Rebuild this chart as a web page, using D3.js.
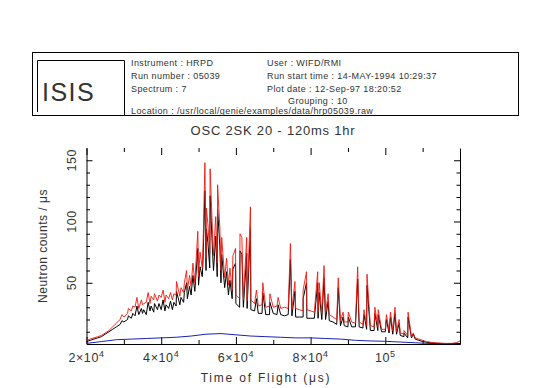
<!DOCTYPE html>
<html>
<head>
<meta charset="utf-8">
<script src="https://cdn.jsdelivr.net/npm/d3@7"></script>
<style>
  body { margin: 0; background: #fff; }
  text { font-family: "Liberation Sans", Arial, sans-serif; fill: #333; }
</style>
</head>
<body>
<div id="chart"></div>
<script>

// time of flight grid, in thousands of microseconds
const tofK = [20,21,22,23,24,25,26,27,28,29,30,31,32,33,34,35,36,37,38,39,
  40,41,42,43,44,45,46,47,48,49,50,51,52,53,54,55,56,57,58,59,
  60,61,62,63,64,65,66,67,68,69,70,71,72,73,74,75,76,77,78,79,
  80,81,82,83,84,85,86,87,88,89,90,91,92,93,94,95,96,97,98,99,
  100,101,102,103,104,105,106,107,108,109,110,111,112,113,114,115,116,117,118,119,120];

// red spectrum background
const redCounts = [3,4,5,6,7,9,11,14,17,20,22,25,27,30,29,32,34,33,36,35,
  38,34,37,36,40,39,42,44,47,50,55,62,70,74,72,66,60,54,48,44,
  40,37,36,35,36,33,31,32,30,31,30,31,29,30,29,28,29,28,27,28,
  27,26,26,25,25,24,22,20,19,18,18,18,17,18,16,15,15,14,14,12,
  12,11,11,10,9,8,7,6,5,4,3,2,1.5,1,0.8,0.6,0.5,0.5,0.6,1,2.5];

// black spectrum background
const blackCounts = [2,3,4,5,6,8,10,12,14,16,18,20,21,23,24,25,24,27,26,28,
  28,27,29,28,31,32,34,37,40,43,48,55,60,62,60,55,50,46,40,37,
  33,30,30,29,28,27,25,25,24,24,25,24,24,23,24,23,22,22,22,21,
  21,21,21,20,20,19,18,16,15,15,14,14,14,14,13,12,11,11,11,10,
  10,9,8,8,7,6,5,5,4,3,2,1.5,1,0.8,0.6,0.5,0.4,0.4,0.4,0.5,0.5];

// Bragg peaks (thousands of microseconds) and their tops
const peakK = [29.5,31.2,32.4,33.5,34.7,35.3,36.5,37.3,38.2,39.4,
  40.5,41.3,42.5,43.4,44.1,45.3,46.2,46.8,47.6,48.5,
  49.8,50.4,51.2,51.7,52.1,52.5,53.1,53.8,54.6,55.1,
  55.7,56.2,57.5,58.4,59.2,59.9,61.1,61.6,62.9,63.9,
  65.5,67.2,69.1,71.3,74.6,75.8,78.0,78.9,81.9,82.3,
  83.6,84.7,87.4,88.7,90.1,92.6,94.3,95.1,97.2,98.1,
  100.3,101.4,102.6,103.7,105.0,106.1,107.5];
const peakRed = [24,29,31,38,36,33,42,39,41,40,
  44,40,42,41,51,46,50,60,56,66,
  92,75,80,148,111,98,143,86,104,130,
  95,87,70,62,72,78,90,87,87,112,
  44,50,41,38,82,51,44,59,59,50,
  64,41,54,26,26,63,28,57,30,28,
  24,26,30,20,11,26,9];
const peakBlack = [19,23,25,31,29,28,34,31,33,33,
  36,32,35,34,43,38,42,50,47,56,
  78,63,68,125,94,83,121,72,88,110,
  80,73,59,52,61,66,76,73,74,95,
  37,42,34,32,69,43,37,50,50,42,
  54,35,46,22,22,53,24,48,25,24,
  20,22,25,17,9,22,8];

// low background monitor curve
const blueK = [20,24,28,32,36,40,44,48,52,56,60,64,68,72,76,80,84,88,92,96,100,104,108,112,116,120];
const blueCounts = [0.5,2,3.5,4,4.5,5,5.5,6.5,8,8.5,7.5,6.5,6,5.5,5,5,4.5,4,3,2.5,2.2,1.6,1,0.4,0.3,0.3];

const xMajor = [20000, 40000, 60000, 80000, 100000];
const xMajorLabels = [["2\u00d710", "4"], ["4\u00d710", "4"], ["6\u00d710", "4"], ["8\u00d710", "4"], ["10", "5"]];
const xMinor = [30000, 50000, 70000, 90000, 110000];
const yMajor = [50, 100, 150];
const yMinor = [10, 20, 30, 40, 60, 70, 80, 90, 110, 120, 130, 140];

const headerLeft = ["Instrument : HRPD", "Run number : 05039", "Spectrum : 7"];
const headerRight = ["User : WIFD/RMI", "Run start time : 14-MAY-1994 10:29:37",
  "Plot date : 12-Sep-97 18:20:52"];
const groupingText = "Grouping : 10";
const locationText = "Location : /usr/local/genie/examples/data/hrp05039.raw";
const titleText = "OSC 2SK 20 - 120ms 1hr";

const width = 547, height = 388;
const plotLeft = 86.5, plotRight = 460, plotTop = 148, plotBottom = 344;

const svg = d3.select("#chart").append("svg")
    .attr("width", width)
    .attr("height", height);

// header box
svg.append("rect")
    .attr("x", 32.5).attr("y", 52.5).attr("width", 486).attr("height", 63)
    .attr("fill", "none").attr("stroke", "#000");
svg.append("path")
    .attr("d", "M37.5,112V60.5H124.5V116")
    .attr("fill", "none").attr("stroke", "#000");
svg.append("text")
    .attr("x", 42).attr("y", 101)
    .attr("font-size", 25).attr("letter-spacing", 1.5)
    .text("ISIS");

svg.append("g").selectAll("text")
    .data(headerLeft)
    .join("text")
    .attr("x", 131).attr("y", (d, i) => 66 + i * 13)
    .attr("font-size", 9).attr("letter-spacing", 0.4)
    .text((d) => d);
svg.append("g").selectAll("text")
    .data(headerRight)
    .join("text")
    .attr("x", 267).attr("y", (d, i) => 66 + i * 13)
    .attr("font-size", 9).attr("letter-spacing", 0.4)
    .text((d) => d);
svg.append("text")
    .attr("x", 288).attr("y", 103.5)
    .attr("font-size", 9).attr("letter-spacing", 0.4)
    .text(groupingText);
svg.append("text")
    .attr("x", 131).attr("y", 114)
    .attr("font-size", 9).attr("letter-spacing", 0.4)
    .text(locationText);

svg.append("text")
    .attr("x", 273).attr("y", 135)
    .attr("text-anchor", "middle")
    .attr("font-size", 13).attr("letter-spacing", 0.8)
    .text(titleText);

// scales
const xScale = d3.scaleLinear().domain([20000, 120000]).range([plotLeft, plotRight]);
const yScale = d3.scaleLinear().domain([0, 160]).range([plotBottom, plotTop]);

// axes, ticks pointing into the frame
svg.append("g")
    .attr("transform", `translate(0,${plotBottom})`)
    .call(d3.axisBottom(xScale).tickValues(xMajor).tickSize(-7).tickSizeOuter(0).tickFormat(""));
svg.append("g")
    .attr("transform", `translate(0,${plotBottom})`)
    .call(d3.axisBottom(xScale).tickValues(xMinor).tickSize(-4).tickSizeOuter(0).tickFormat(""))
    .call((g) => g.select(".domain").remove());

svg.append("g")
    .attr("transform", `translate(0,${plotTop})`)
    .call(d3.axisTop(xScale).tickValues(xMajor).tickSize(-7).tickSizeOuter(0).tickFormat(""))
    .call((g) => g.select(".domain").remove());
svg.append("g")
    .attr("transform", `translate(0,${plotTop})`)
    .call(d3.axisTop(xScale).tickValues(xMinor).tickSize(-4).tickSizeOuter(0).tickFormat(""))
    .call((g) => g.select(".domain").remove());

svg.append("g")
    .attr("transform", `translate(${plotLeft},0)`)
    .call(d3.axisLeft(yScale).tickValues(yMajor).tickSize(-6).tickSizeOuter(0).tickFormat(""));
svg.append("g")
    .attr("transform", `translate(${plotLeft},0)`)
    .call(d3.axisLeft(yScale).tickValues(yMinor).tickSize(-3.5).tickSizeOuter(0).tickFormat(""))
    .call((g) => g.select(".domain").remove());

svg.append("g")
    .attr("transform", `translate(${plotRight},0)`)
    .call(d3.axisRight(yScale).tickValues(yMajor).tickSize(-6).tickSizeOuter(0).tickFormat(""));
svg.append("g")
    .attr("transform", `translate(${plotRight},0)`)
    .call(d3.axisRight(yScale).tickValues(yMinor).tickSize(-3.5).tickSizeOuter(0).tickFormat(""))
    .call((g) => g.select(".domain").remove());

svg.selectAll(".domain, .tick line").attr("stroke", "#000");

// tick labels
const xLab = svg.append("g").selectAll("text")
    .data(xMajor)
    .join("text")
    .attr("x", (d) => xScale(d))
    .attr("y", 362)
    .attr("text-anchor", "middle")
    .attr("font-size", 12.5).attr("letter-spacing", 0.6);
xLab.append("tspan").text((d, i) => xMajorLabels[i][0]);
xLab.append("tspan")
    .attr("dy", -5).attr("font-size", 9)
    .text((d, i) => xMajorLabels[i][1]);

svg.append("g").selectAll("text")
    .data(yMajor)
    .join("text")
    .attr("transform", (d) => `translate(76,${yScale(d)}) rotate(-90)`)
    .attr("text-anchor", "middle")
    .attr("font-size", 12.5).attr("letter-spacing", 0.5)
    .text((d) => d);

svg.append("text")
    .attr("x", 266).attr("y", 382)
    .attr("text-anchor", "middle")
    .attr("font-size", 12).attr("letter-spacing", 1.8)
    .text("Time of Flight (\u03bcs)");
svg.append("text")
    .attr("transform", `translate(47,${(plotTop + plotBottom) / 2}) rotate(-90)`)
    .attr("text-anchor", "middle")
    .attr("font-size", 12).attr("letter-spacing", 0.5)
    .text("Neutron counts / \u03bcs");

// series: background points merged with peak tops
function buildSeries(xs, ys, px, py) {
    const pts = xs.map((k, i) => [k * 1000, ys[i]]);
    if (px) px.forEach((k, i) => pts.push([k * 1000, py[i]]));
    return pts.sort((a, b) => a[0] - b[0]);
}

const line = d3.line()
    .x((d) => xScale(d[0]))
    .y((d) => yScale(d[1]));

const plot = svg.append("g");
plot.append("path")
    .datum(buildSeries(blueK, blueCounts))
    .attr("fill", "none").attr("stroke", "#1a22b8").attr("stroke-width", 1)
    .attr("d", line);
plot.append("path")
    .datum(buildSeries(tofK, blackCounts, peakK, peakBlack))
    .attr("fill", "none").attr("stroke", "#000").attr("stroke-width", 1)
    .attr("d", line);
plot.append("path")
    .datum(buildSeries(tofK, redCounts, peakK, peakRed))
    .attr("fill", "none").attr("stroke", "#ee1a10").attr("stroke-width", 1)
    .attr("stroke-opacity", 0.9)
    .attr("d", line);

</script>
</body>
</html>
